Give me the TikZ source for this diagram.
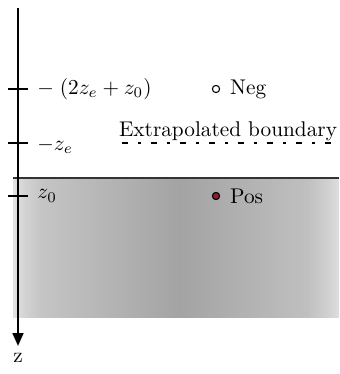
\documentclass[tikz,border=0pt]{standalone}
\usetikzlibrary{arrows.meta,positioning}
\pgfdeclarehorizontalshading{slab}{100bp}{color(0bp)=(black!11); color(25bp)=(black!11); color(27bp)=(black!18); color(29.5bp)=(black!23); color(50.5bp)=(black!36); color(70bp)=(black!25); color(73bp)=(black!19); color(75bp)=(black!13); color(100bp)=(black!13)}
\definecolor{posred}{RGB}{135,35,40}

\begin{document}
\begin{tikzpicture}[
    x=0.47pt, y=-0.47pt,
    axis/.style={line width=1pt, -{Triangle[length=6pt,width=5pt]}},
    tickmark/.style={line width=1pt},
    lbl/.style={anchor=west, inner sep=0pt},
    src/.style={circle, draw, line width=0.5pt, minimum size=3.4pt, inner sep=0pt},
    boundary/.style={line width=1pt, dash pattern=on 3pt off 4.7pt on 1.2pt off 4.7pt}
]
\useasboundingbox (0,0) rectangle (339,374);
% medium
\shade[shading=slab] (13,178) rectangle (339,317);
\coordinate (sl) at (13,178);
\coordinate (sr) at (339,178);
\draw[line width=1pt, black!80] (sl) -- (sr);
% axis
\coordinate (top) at (18,8);
\coordinate (bot) at (18,346);
\draw[axis] (top) -- (bot);
\node[inner sep=0pt] (zlab) at (18,358) {z};
% ticks
\foreach \y/\n in {89/t1, 143/t2, 196/t3} {
  \coordinate (\n l) at (8,\y);
  \coordinate (\n r) at (28,\y);
  \draw[tickmark] (\n l) -- (\n r);
}
\node[lbl] (lneg) at (37,89) {$-\;(2z_e+z_0)$};
\node[lbl] (lze) at (37,146) {$-z_e$};
\node[lbl] (lz0) at (37,196) {$z_0$};
% extrapolated boundary
\coordinate (bl) at (122,143);
\coordinate (br) at (339,143);
\draw[boundary] (bl) -- (br);
\node[inner sep=0pt] (eb) at (228,131) {Extrapolated boundary};
% sources
\node[src] (neg) at (216,89) {};
\node[lbl, right=4.5pt of neg] (negt) {Neg};
\node[src, fill=posred] (pos) at (216,196) {};
\node[lbl, right=4.5pt of pos] (post) {Pos};
\end{tikzpicture}
\end{document}
